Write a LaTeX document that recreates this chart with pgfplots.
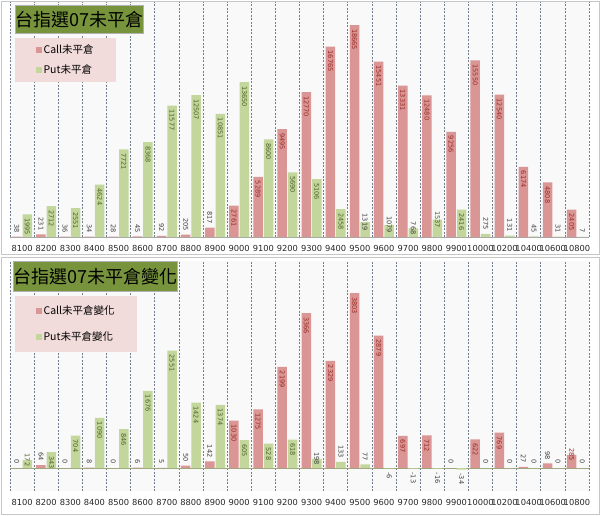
\documentclass[border=0pt]{standalone}
\usepackage{pgfplots}
\pgfplotsset{compat=1.18}
\usepackage{pgfplotstable}
\usepackage{fontspec}
\setmainfont{Noto Sans CJK TC}
\newfontfamily\numfont{DejaVu Sans}
\definecolor{callbar}{HTML}{D99694}
\definecolor{putbar}{HTML}{C3D69B}
\definecolor{legbg}{HTML}{F2DCDB}
\definecolor{titlebg}{HTML}{77933C}
\definecolor{lc}{HTML}{9C2A27}
\definecolor{lp}{HTML}{4F6228}
\definecolor{lk}{HTML}{404040}
\definecolor{gridc}{HTML}{6F7F90}
\definecolor{zeroc}{HTML}{9AA77E}

% label code: position (W = inside below top, C = centred on top, E = above top), colour (c/p/k), text
\def\mk#1#2#3\relax{\color{l#2}%
  \ifx W#1\rlap{\hspace{4bp}#3}\else
  \ifx E#1\llap{#3\hspace{4bp}}\else
  \makebox[0pt][c]{#3}\fi\fi}

\pgfplotstableread{
x y m
0 38 Ek38
1 231 Ek231
2 36 Ek36
3 34 Ek34
4 28 Ek28
5 45 Ek45
6 92 Ek92
7 205 Ek205
8 817 Ek817
9 2761 Wc2761
10 5289 Wc5289
11 9495 Wc9495
12 12770 Wc12770
13 16765 Wc16765
14 18665 Wc18665
15 15451 Wc15451
16 13331 Wc13331
17 12480 Wc12480
18 9256 Wc9256
19 15550 Wc15550
20 12540 Wc12540
21 6174 Wc6174
22 4808 Wc4808
23 2405 Wc2405
}\topcall

\pgfplotstableread{
x y m
0 1995 Wp1995
1 2712 Wp2712
2 2551 Wp2551
3 4624 Wp4624
4 7721 Wp7721
5 8368 Wp8368
6 11577 Wp11577
7 12507 Wp12507
8 10851 Wp10851
9 13650 Wp13650
10 8600 Wp8600
11 5690 Wp5690
12 5106 Wp5106
13 2458 Wp2458
14 1319 Ck1319
15 1079 Ck1079
16 768 Ck768
17 1537 Cp1537
18 2416 Wp2416
19 275 Ek275
20 131 Ek131
21 45 Ek45
22 31 Ek31
23 7 Ek7
}\topput

\pgfplotstableread{
x y m
0 0 Ek0
1 64 Ek64
2 0 Ek0
3 8 Ek8
4 0 Ek0
5 6 Ek6
6 5 Ek5
7 50 Ek50
8 142 Ek142
9 1030 Wc1030
10 1275 Wc1275
11 2199 Wc2199
12 3366 Wc3366
13 2329 Wc2329
14 3803 Wc3803
15 2879 Wc2879
16 697 Wc697
17 712 Wc712
18 0 Ek0
19 622 Wc622
20 769 Wc769
21 27 Ek27
22 98 Ek98
23 285 Cc285
}\chgcall

\pgfplotstableread{
x y m
0 172 Cp172
1 343 Wp343
2 704 Wp704
3 1090 Wp1090
4 846 Wp846
5 1676 Wp1676
6 2551 Wp2551
7 1424 Wp1424
8 1374 Wp1374
9 605 Wp605
10 528 Wp528
11 618 Wp618
12 198 Ck198
13 133 Ek133
14 77 Ek77
15 -6 Wk-6
16 -13 Wk-13
17 -16 Wk-16
18 -34 Wk-34
19 0 Ek0
20 0 Ek0
21 0 Ek0
22 0 Ek0
23 0 Ek0
}\chgput

\pgfplotsset{
  panel/.style={
    scale only axis, width=579bp,
    xmin=-0.5, xmax=23.5,
    ybar=1bp, bar width=9.5bp,
    axis line style={draw=none},
    axis background/.style={fill=gray!5},
    xtick={0,...,23},
    xticklabels={8100,8200,8300,8400,8500,8600,8700,8800,8900,9000,9100,9200,9300,9400,9500,9600,9700,9800,9900,10000,10200,10400,10600,10800},
    xticklabel style={font=\numfont\fontsize{8.3bp}{10bp}\selectfont, text=black!85, yshift=-5bp},
    ytick=\empty,
    major tick length=0pt, minor tick length=0pt,
    minor xtick={-0.5,0.5,...,23.5},
    xminorgrids=true,
    minor grid style={draw=gridc, dash pattern=on 2bp off 1.5bp, line width=0.6bp},
    extra y ticks={0}, extra y tick labels={},
    clip=false,
    point meta=explicit symbolic,
    nodes near coords={\expandafter\mk\pgfplotspointmeta\relax},
    every node near coord/.append style={font=\numfont\fontsize{6.6bp}{7bp}\selectfont, rotate=-90, anchor=center, inner sep=0pt},
    legend style={fill=legbg, draw=none, anchor=north west, font=\fontsize{10.5bp}{12bp}\selectfont, inner xsep=21bp, nodes={inner sep=1.8bp}},
    legend cell align=left,
  },
  sq legend/.style={legend image code/.code={\fill[##1] (0bp,-2.8bp) rectangle (5.6bp,2.8bp);}},
}

\begin{document}
\begin{tikzpicture}
\path[use as bounding box] (0,0) rectangle (600bp,-516bp);
\draw[gray!45, line width=0.8bp] (1bp,-1bp) rectangle (599bp,-254bp);
\draw[gray!45, line width=0.8bp] (1bp,-257bp) rectangle (599bp,-514bp);

\begin{axis}[panel, at={(10bp,-237bp)}, anchor=south west, height=235bp,
  ymin=0, ymax=20700,
  extra y tick style={grid=major, major grid style={draw=gray!70, solid, line width=0.8bp}},
  legend style={at={(0.0086,0.847)}, inner ysep=5bp, row sep=6bp}]
\addplot[fill=callbar, draw=none, sq legend] table[x=x, y=y, meta=m] {\topcall};
\addlegendentry{Call未平倉}
\addplot[fill=putbar, draw=none, sq legend] table[x=x, y=y, meta=m] {\topput};
\addlegendentry{Put未平倉}
\end{axis}

\begin{axis}[panel, at={(10bp,-491bp)}, anchor=south west, height=230bp,
  ymin=-500, ymax=4500,
  extra y tick style={grid=major, major grid style={draw=zeroc, solid, line width=0.8bp}},
  legend style={at={(0.0086,0.848)}, inner ysep=8bp, row sep=12bp}]
\addplot[fill=callbar, draw=none, sq legend] table[x=x, y=y, meta=m] {\chgcall};
\addlegendentry{Call未平倉變化}
\addplot[fill=putbar, draw=none, sq legend] table[x=x, y=y, meta=m] {\chgput};
\addlegendentry{Put未平倉變化}
\end{axis}

\node[fill=titlebg, draw=gray!60, minimum width=122bp, minimum height=28bp, inner sep=0pt, anchor=north west, font=\fontsize{18bp}{20bp}\selectfont] at (15bp,-5bp) {台指選07未平倉};
\node[fill=titlebg, draw=gray!60, minimum width=157bp, minimum height=30bp, inner sep=0pt, anchor=north west, font=\fontsize{18bp}{20bp}\selectfont] at (13bp,-261bp) {台指選07未平倉變化};
\end{tikzpicture}
\end{document}
